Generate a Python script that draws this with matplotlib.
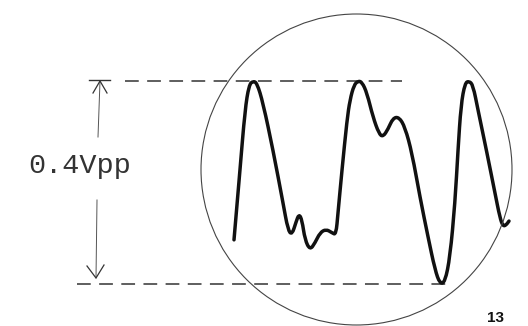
import matplotlib
matplotlib.use("Agg")
import matplotlib.pyplot as plt
from matplotlib.patches import Circle, PathPatch
from matplotlib.path import Path

# Oscilloscope trace (time in screen units, amplitude in volts)
trace_t = [234, 240, 245, 249, 253, 257, 263, 273, 283, 288, 292, 296, 299, 302,
           305, 310, 315, 320, 326, 332, 336, 338, 342, 347, 350, 354, 358, 362,
           367, 373, 379, 383, 388, 393, 399, 405, 412, 420, 428, 435, 440, 445,
           450, 455, 458, 461, 465, 469, 473, 478, 487, 495, 500, 503, 506, 509]
trace_v = [-0.113, 0.025, 0.143, 0.192, 0.200, 0.196, 0.157, 0.064, -0.040, -0.094,
           -0.103, -0.078, -0.062, -0.074, -0.113, -0.133, -0.119, -0.099, -0.092,
           -0.099, -0.103, -0.060, 0.025, 0.123, 0.163, 0.192, 0.200, 0.198, 0.176,
           0.129, 0.096, 0.090, 0.105, 0.127, 0.129, 0.109, 0.058, -0.029, -0.107,
           -0.172, -0.200, -0.196, -0.147, -0.040, 0.064, 0.153, 0.196, 0.200,
           0.192, 0.143, 0.058, -0.021, -0.070, -0.086, -0.084, -0.076]

vpp = 0.4
label = "0.4Vpp"
page_number = "13"

W, H = 528, 326
fig = plt.figure(figsize=(W / 100, H / 100), dpi=100)
fig.patch.set_facecolor("white")

# Signal axes: x in screen units, y in volts (top dashed = +0.2 V, bottom = -0.2 V)
vpx = vpp / 203.0
ax = fig.add_axes([0, 0, 1, 1])
ax.set_xlim(0, W)
ax.set_ylim(-vpp / 2 - (H - 284) * vpx, vpp / 2 + 81 * vpx)
ax.axis("off")

# Decoration axes in pixel coordinates
axp = fig.add_axes([0, 0, 1, 1])
axp.set_xlim(0, W)
axp.set_ylim(H, 0)
axp.axis("off")
axp.patch.set_alpha(0)

dash_col = "#333333"
ax.plot([125, 402], [vpp / 2, vpp / 2], color=dash_col, lw=1.1,
        dashes=(9, 5.5))
ax.plot([77, 453], [-vpp / 2, -vpp / 2], color=dash_col, lw=1.1,
        dashes=(9, 5.5))

# Smooth rendering of the trace with quadratic Bezier segments
pts = list(zip(trace_t, trace_v))
verts = [pts[0]]
codes = [Path.MOVETO]
for i in range(1, len(pts) - 1):
    mid = ((pts[i][0] + pts[i + 1][0]) / 2, (pts[i][1] + pts[i + 1][1]) / 2)
    verts += [pts[i], mid]
    codes += [Path.CURVE3, Path.CURVE3]
verts.append(pts[-1])
codes.append(Path.LINETO)
ax.add_patch(PathPatch(Path(verts, codes), fill=False, lw=2.5,
                       edgecolor="#111111", joinstyle="round",
                       capstyle="round", zorder=5))

# Screen circle
axp.add_patch(Circle((356.5, 169.5), 155.5, fill=False, lw=0.8,
                     edgecolor="#444444"))

# Measurement arrow
acol = "#555555"
axp.plot([100, 98], [81, 137], color=acol, lw=0.7)
axp.plot([97, 96], [200, 278], color=acol, lw=0.7)
axp.plot([89, 110], [80, 80], color="#333333", lw=1.0)
axp.plot([93, 100, 107], [93, 81, 93], color="#333333", lw=0.9)
axp.plot([87, 96, 104], [266, 278, 265], color="#333333", lw=0.9)

axp.text(80, 166, label, fontsize=20.5, family="Liberation Mono",
         color="#333333", ha="center", va="center")

axp.text(496, 325, page_number, fontsize=11, family="Liberation Sans",
         fontweight="bold", color="#111111", ha="center", va="bottom")

fig.savefig("out.png", dpi=100, facecolor="white")
